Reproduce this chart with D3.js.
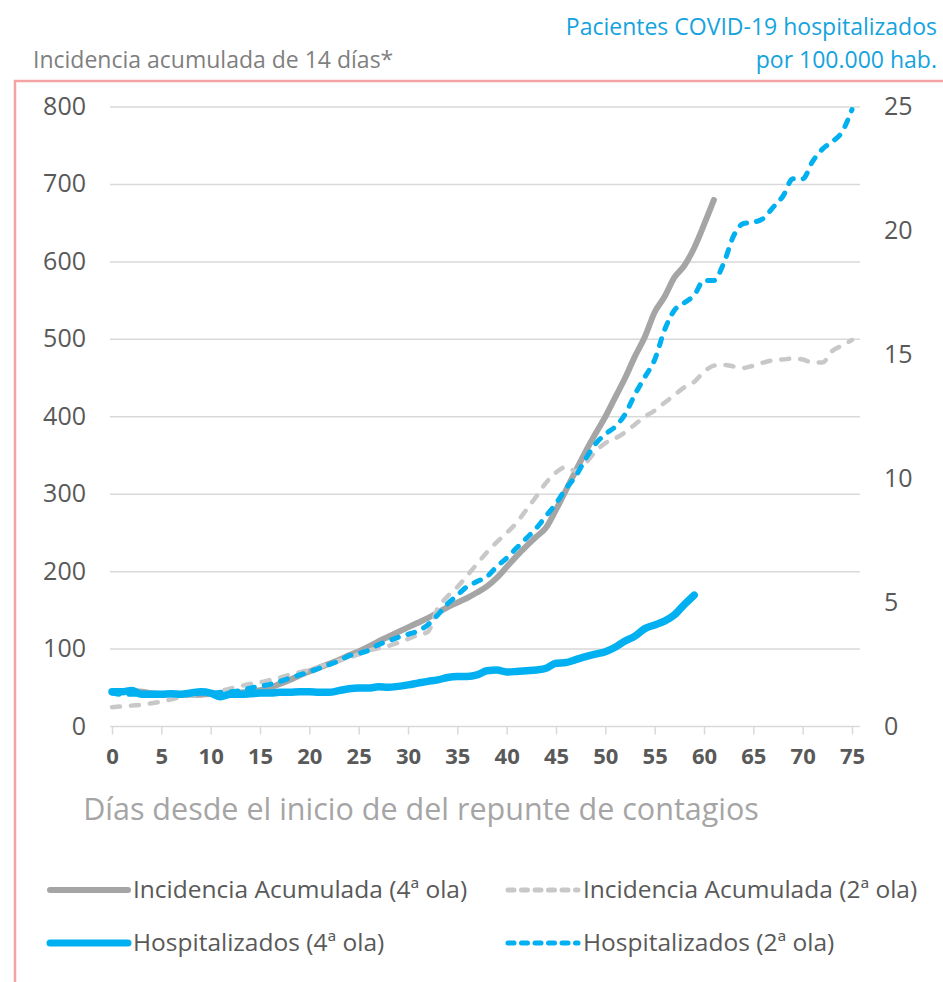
<!DOCTYPE html>
<html>
<head>
<meta charset="utf-8">
<script src="https://cdn.jsdelivr.net/npm/d3@7"></script>
<style>
  body { margin: 0; background: #fff; }
  svg { display: block; font-family: "Open Sans", "Noto Sans", sans-serif; }
</style>
</head>
<body>
<div id="chart"></div>
<script>
// days since the start of the rebound
var days = d3.range(0, 76);
var xTicks = d3.range(0, 80, 5);
var leftTicks = [0, 100, 200, 300, 400, 500, 600, 700, 800];
var rightTicks = [0, 5, 10, 15, 20, 25];

// Incidencia acumulada 14 dias (left axis)
var ia4 = [45,45,46,45,43,42,42,41,41,41,42,42,43,44,45,47,50,55,60,66,
           71,76,81,86,92,97,103,110,116,122,128,134,140,147,154,160,166,173,181,192,
           206,220,233,245,257,280,305,330,355,378,400,425,450,478,503,535,555,580,595,618,
           648,680];
var ia2 = [25,26,27,28,30,32,35,38,40,42,44,46,49,52,55,57,60,63,67,70,
           73,77,81,85,89,93,98,101,104,108,113,118,122,152,168,180,195,210,225,238,
           250,263,280,297,315,328,335,330,340,355,366,372,380,390,400,408,418,428,438,445,
           458,466,467,465,463,466,470,473,474,475,474,470,470,485,492,499];

// Hospitalizados por 100.000 hab. (right axis)
var hosp4 = [1.4,1.4,1.45,1.3,1.3,1.3,1.32,1.3,1.35,1.4,1.35,1.2,1.3,1.3,1.32,1.35,1.35,1.38,1.38,1.4,
             1.4,1.38,1.38,1.45,1.52,1.55,1.55,1.6,1.58,1.62,1.68,1.75,1.82,1.88,1.98,2.02,2.02,2.08,2.25,2.28,
             2.2,2.22,2.25,2.28,2.35,2.55,2.58,2.7,2.82,2.92,3.02,3.2,3.45,3.65,3.95,4.1,4.25,4.5,4.92,5.3];
var hosp2 = [1.35,1.3,1.3,1.3,1.3,1.32,1.32,1.33,1.33,1.35,1.35,1.38,1.4,1.45,1.55,1.62,1.7,1.82,1.95,2.08,
             2.2,2.35,2.5,2.65,2.85,2.95,3.07,3.3,3.45,3.6,3.72,3.85,4.1,4.5,4.95,5.3,5.65,5.85,6.05,6.45,
             6.8,7.2,7.6,8.0,8.5,9.0,9.6,10.1,10.8,11.4,11.8,12.1,12.6,13.4,14.1,14.8,16.0,16.8,17.1,17.4,
             18.0,18.0,18.7,19.8,20.3,20.35,20.5,20.95,21.4,22.1,22.1,22.8,23.3,23.6,24.0,24.9];

var width = 943, height = 982;

var svg = d3.select("#chart").append("svg")
    .attr("width", width)
    .attr("height", height);

// pink frame (only left and top edges visible)
svg.append("path")
    .attr("d", "M15,982 V81 H943")
    .attr("fill", "none")
    .attr("stroke", "#f4a3a3")
    .attr("stroke-width", 2.5);

// titles
svg.append("text")
    .attr("x", 33).attr("y", 68)
    .attr("fill", "#7f7f7f").attr("font-size", 23)
    .text("Incidencia acumulada de 14 días*");
svg.append("text")
    .attr("x", 937).attr("y", 35)
    .attr("text-anchor", "end")
    .attr("fill", "#15a3de").attr("font-size", 23)
    .text("Pacientes COVID-19 hospitalizados");
svg.append("text")
    .attr("x", 937).attr("y", 68)
    .attr("text-anchor", "end")
    .attr("fill", "#15a3de").attr("font-size", 23)
    .text("por 100.000 hab.");

var x = d3.scaleLinear().domain([0, 75]).range([112, 852]);
var yL = d3.scaleLinear().domain([0, 800]).range([726.5, 107]);
var yR = d3.scaleLinear().domain([0, 25]).range([726.5, 107]);

// gridlines
svg.append("g").selectAll("line")
    .data(leftTicks.slice(1))
    .join("line")
    .attr("x1", 110).attr("x2", 860)
    .attr("y1", function(d) { return yL(d); })
    .attr("y2", function(d) { return yL(d); })
    .attr("stroke", "#d9d9d9")
    .attr("stroke-width", 1.5);

// left axis labels
svg.append("g").selectAll("text")
    .data(leftTicks)
    .join("text")
    .attr("x", 86)
    .attr("y", function(d) { return yL(d) + 8; })
    .attr("text-anchor", "end")
    .attr("fill", "#595959").attr("font-size", 25)
    .text(function(d) { return d; });

// right axis labels
svg.append("g").selectAll("text")
    .data(rightTicks)
    .join("text")
    .attr("x", 884)
    .attr("y", function(d) { return yR(d) + 8; })
    .attr("fill", "#595959").attr("font-size", 25)
    .text(function(d) { return d; });

// x axis
var xAxis = svg.append("g")
    .attr("transform", "translate(0," + yL(0) + ")")
    .call(d3.axisBottom(x).tickValues(xTicks).tickSize(8).tickPadding(14));
xAxis.select(".domain")
    .attr("d", "M110,0H860")
    .attr("stroke", "#d9d9d9")
    .attr("stroke-width", 1.5);
xAxis.selectAll(".tick line")
    .attr("stroke", "#d9d9d9")
    .attr("stroke-width", 1.5);
xAxis.selectAll(".tick text")
    .attr("fill", "#595959")
    .attr("font-size", 22)
    .attr("font-weight", "bold")
    .attr("font-family", "'Open Sans', sans-serif");

svg.append("text")
    .attr("x", 421).attr("y", 820)
    .attr("text-anchor", "middle")
    .attr("fill", "#a5a5a5").attr("font-size", 30.5)
    .text("Días desde el inicio de del repunte de contagios");

// series
var series = [
  {name: "Incidencia Acumulada (4ª ola)", values: ia4, axis: yL, color: "#a5a5a5", w: 6, dash: null},
  {name: "Incidencia Acumulada (2ª ola)", values: ia2, axis: yL, color: "#c8c8c8", w: 4.5, dash: "8,11"},
  {name: "Hospitalizados (2ª ola)", values: hosp2, axis: yR, color: "#00b0f0", w: 5, dash: "7,10"},
  {name: "Hospitalizados (4ª ola)", values: hosp4, axis: yR, color: "#00b0f0", w: 7.5, dash: null}
];

series.forEach(function(s) {
  var line = d3.line()
      .x(function(d, i) { return x(days[i]); })
      .y(function(d) { return s.axis(d); })
      .curve(d3.curveMonotoneX);
  svg.append("path")
      .datum(s.values)
      .attr("fill", "none")
      .attr("stroke", s.color)
      .attr("stroke-width", s.w)
      .attr("stroke-linecap", "round")
      .attr("stroke-linejoin", "round")
      .attr("stroke-dasharray", s.dash)
      .attr("d", line);
});

// legend
var legendItems = [
  {name: "Incidencia Acumulada (4ª ola)", color: "#a5a5a5", w: 6, dash: null, lx: 50, tx: 133, y: 890},
  {name: "Incidencia Acumulada (2ª ola)", color: "#c8c8c8", w: 5, dash: "6,7.5", lx: 508, tx: 583, y: 890},
  {name: "Hospitalizados (4ª ola)", color: "#00b0f0", w: 7, dash: null, lx: 50, tx: 133, y: 943},
  {name: "Hospitalizados (2ª ola)", color: "#00b0f0", w: 5, dash: "6,7.5", lx: 508, tx: 583, y: 943}
];

var lg = svg.append("g").selectAll("g")
    .data(legendItems)
    .join("g");
lg.append("line")
    .attr("x1", function(d) { return d.lx; })
    .attr("x2", function(d) { return d.tx - 5; })
    .attr("y1", function(d) { return d.y; })
    .attr("y2", function(d) { return d.y; })
    .attr("stroke", function(d) { return d.color; })
    .attr("stroke-width", function(d) { return d.w; })
    .attr("stroke-linecap", "round")
    .attr("stroke-dasharray", function(d) { return d.dash; });
lg.append("text")
    .attr("x", function(d) { return d.tx; })
    .attr("y", function(d) { return d.y + 8; })
    .attr("fill", "#595959").attr("font-size", 24.5)
    .text(function(d) { return d.name; });
</script>
</body>
</html>
